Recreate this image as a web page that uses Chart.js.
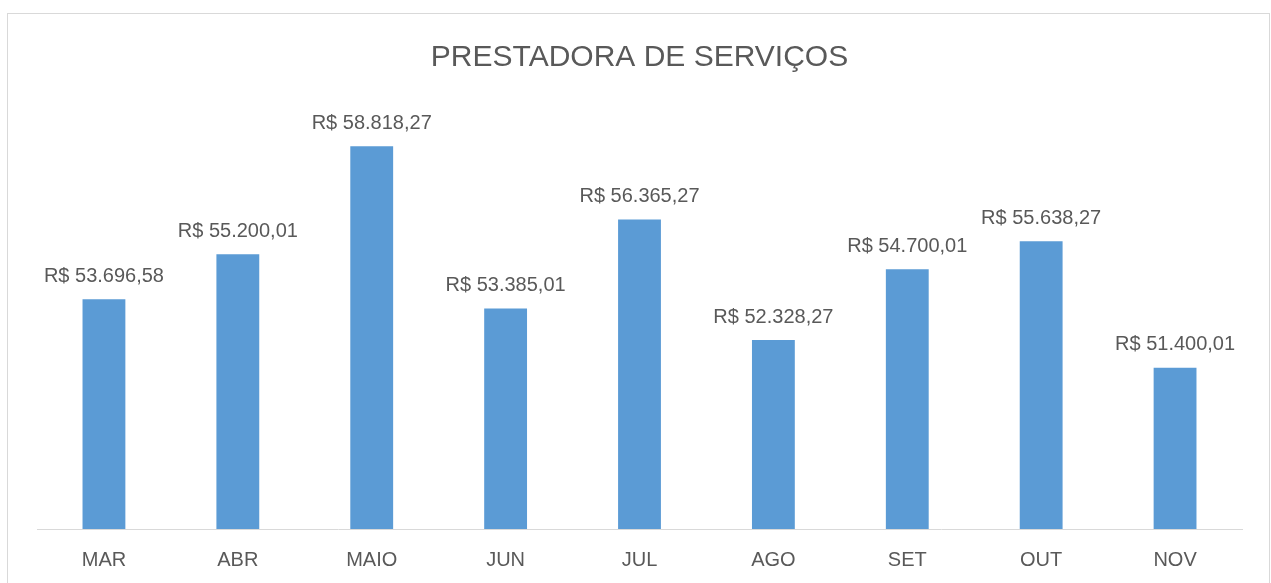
<!DOCTYPE html>
<html>
<head>
<meta charset="utf-8">
<script src="https://cdn.jsdelivr.net/npm/chart.js@4"></script>
<style>
  html, body { margin: 0; padding: 0; background: #fff; overflow: hidden; }
  #box { position: absolute; left: 7px; top: 13px; width: 1263px; height: 600px; border: 1px solid #d9d9d9; box-sizing: border-box; }
  #wrap { position: absolute; left: 0; top: 0; width: 1271px; height: 602px; }
</style>
</head>
<body>
<div id="box"></div>
<div id="wrap"><canvas id="bars"></canvas></div>
<script>
var meses = ['MAR', 'ABR', 'MAIO', 'JUN', 'JUL', 'AGO', 'SET', 'OUT', 'NOV'];
var valores = [53696.58, 55200.01, 58818.27, 53385.01, 56365.27, 52328.27, 54700.01, 55638.27, 51400.01];
var eixoMin = 46000;
var eixoMax = 60000;

function reais(v) {
    var partes = v.toFixed(2).split('.');
    var inteiro = partes[0].replace(/\B(?=(\d{3})+(?!\d))/g, '.');
    return 'R$ ' + inteiro + ',' + partes[1];
}

// rotulos em cima das barras
var rotulos = {
    id: 'rotulos',
    afterDatasetsDraw: function(chart) {
        var c = chart.ctx;
        var meta = chart.getDatasetMeta(0);
        c.save();
        c.font = '20px "Liberation Sans", Arial, sans-serif';
        c.fillStyle = '#595959';
        c.textAlign = 'center';
        c.textBaseline = 'middle';
        meta.data.forEach(function(bar, i) {
            c.fillText(reais(valores[i]), bar.x, bar.y - 23);
        });
        c.restore();
    }
};

var ctx = document.getElementById('bars').getContext('2d');
var grafico = new Chart(ctx, {
    type: 'bar',
    data: {
        labels: meses,
        datasets: [{
            label: 'Prestadora',
            data: valores,
            backgroundColor: '#5b9bd5',
            borderWidth: 0,
            categoryPercentage: 1,
            barPercentage: 0.32
        }]
    },
    options: {
        responsive: true,
        maintainAspectRatio: false,
        animation: false,
        layout: { padding: { left: 37, right: 29, top: 0, bottom: 11 } },
        plugins: {
            legend: { display: false },
            tooltip: { enabled: false },
            title: {
                display: true,
                text: 'PRESTADORA DE SERVIÇOS',
                color: '#595959',
                font: { family: '"Liberation Sans", Arial, sans-serif', size: 30, weight: 'normal' },
                padding: { top: 40, bottom: 35 }
            }
        },
        scales: {
            x: {
                grid: { display: false, drawTicks: false },
                border: { color: '#d9d9d9', width: 1 },
                ticks: {
                    color: '#595959',
                    padding: 19,
                    font: { family: '"Liberation Sans", Arial, sans-serif', size: 20 }
                }
            },
            y: {
                display: false,
                min: eixoMin,
                max: eixoMax
            }
        }
    },
    plugins: [rotulos]
});
</script>
</body>
</html>
